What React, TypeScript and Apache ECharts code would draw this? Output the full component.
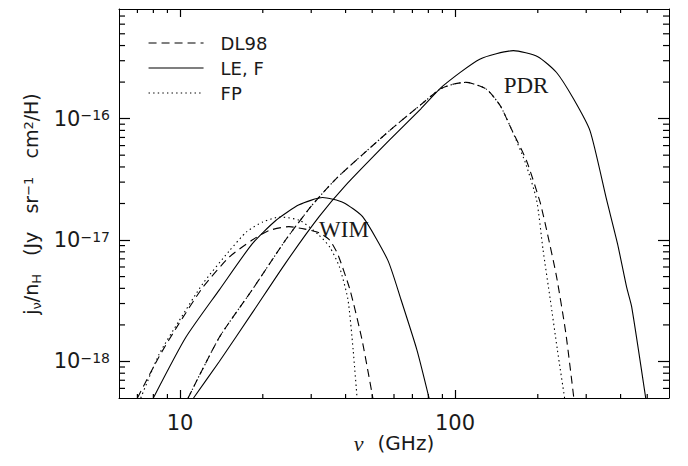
import React, { useEffect, useRef } from 'react';
import * as echarts from 'echarts';

// Axis range and ticks
const X_MIN = 6;
const X_MAX = 600;
const Y_MIN = 5e-19;
const Y_MAX = 8e-16;
const xMajorTicks = [10, 100];
const xMinorTicks = [7, 8, 9, 20, 30, 40, 50, 60, 70, 80, 90, 200, 300, 400, 500];
const yMajorTicks = [1e-18, 1e-17, 1e-16];
const yMinorTicks = [
  6e-19, 7e-19, 8e-19, 9e-19,
  2e-18, 3e-18, 4e-18, 5e-18, 6e-18, 7e-18, 8e-18, 9e-18,
  2e-17, 3e-17, 4e-17, 5e-17, 6e-17, 7e-17, 8e-17, 9e-17,
  2e-16, 3e-16, 4e-16, 5e-16, 6e-16, 7e-16,
];

const legendNames = ['DL98', 'LE, F', 'FP'];

// WIM curves (frequency in GHz, emissivity in Jy sr^-1 cm^2 / H)
const wimDL98Freq = [7.0, 8.4, 9.9, 12.1, 15.1, 18.3, 21.1, 24.9, 28.5, 32.0, 35.0, 37.5, 41.5, 45.9, 50.5];
const wimDL98Val = [5.0e-19, 1.1e-18, 2.04e-18, 4.07e-18, 7.24e-18, 1.0e-17, 1.2e-17, 1.29e-17, 1.23e-17, 1.15e-17, 1.0e-17, 7.6e-18, 3.89e-18, 1.51e-18, 4.7e-19];

const wimLEFreq = [8.0, 10.5, 13.9, 18.3, 22.3, 27.1, 33.0, 39.2, 46.2, 57.0, 63.6, 72.8, 81.0];
const wimLEVal = [5.0e-19, 1.58e-18, 3.89e-18, 9.3e-18, 1.45e-17, 1.95e-17, 2.24e-17, 2.04e-17, 1.55e-17, 6.8e-18, 3.24e-18, 1.23e-18, 4.7e-19];

const wimFPFreq = [7.2, 8.4, 9.9, 12.1, 15.1, 17.5, 20.0, 23.1, 27.3, 32.0, 35.1, 38.0, 40.8, 42.6, 44.2];
const wimFPVal = [5.0e-19, 1.15e-18, 2.14e-18, 4.37e-18, 8.13e-18, 1.175e-17, 1.41e-17, 1.55e-17, 1.45e-17, 1.1e-17, 8.7e-18, 6.0e-18, 3.24e-18, 1.26e-18, 4.5e-19];

// PDR curves
const pdrDL98Freq = [10.7, 13.9, 18.3, 24.2, 30, 37, 47, 59.5, 75, 88.6, 100, 110, 130, 146, 160, 182, 204, 217, 234, 253, 271];
const pdrDL98Val = [5.0e-19, 1.58e-18, 3.89e-18, 1.0e-17, 1.9e-17, 3.21e-17, 5.26e-17, 8.43e-17, 1.3e-16, 1.76e-16, 1.94e-16, 1.99e-16, 1.75e-16, 1.28e-16, 8.3e-17, 4.5e-17, 2.04e-17, 1.12e-17, 5.0e-18, 1.7e-18, 4.8e-19];

const pdrLEFreq = [11.2, 13.9, 18.3, 24.2, 32.0, 40.0, 57.0, 75.0, 90.4, 123, 163, 200, 234, 270, 310, 356, 390, 421, 439, 495];
const pdrLEVal = [5.0e-19, 1.0e-18, 2.51e-18, 6.46e-18, 1.55e-17, 2.82e-17, 6.46e-17, 1.2e-16, 1.86e-16, 3.09e-16, 3.63e-16, 3.24e-16, 2.4e-16, 1.45e-16, 7.9e-17, 2.14e-17, 9.3e-18, 4.07e-18, 2.82e-18, 4.8e-19];

const pdrFPFreq = [10.7, 13.9, 18.3, 24.2, 30, 37, 47, 59.5, 75, 88.6, 100, 110, 130, 146, 160, 180, 198, 209, 222, 235.5, 251];
const pdrFPVal = [5.0e-19, 1.58e-18, 3.89e-18, 1.0e-17, 1.9e-17, 3.21e-17, 5.26e-17, 8.43e-17, 1.3e-16, 1.76e-16, 1.94e-16, 1.99e-16, 1.75e-16, 1.28e-16, 8.3e-17, 4.37e-17, 2.14e-17, 8.3e-18, 3.24e-18, 1.26e-18, 4.8e-19];

const FONT = '"DejaVu Sans", sans-serif';
const SERIF = '"Liberation Serif", "DejaVu Serif", serif';
const TXT = '#1a1a1a';

function makeSeries(name: string, f: number[], v: number[], dash: any) {
  return {
    type: 'line',
    name,
    xAxisIndex: 0,
    yAxisIndex: 0,
    data: f.map((x, i) => [x, v[i]]),
    showSymbol: false,
    symbol: 'none',
    smooth: 0.2,
    silent: true,
    lineStyle: { color: '#000', width: 1.1, type: dash },
  };
}

export default function App() {
  const ref = useRef<HTMLDivElement>(null);

  useEffect(() => {
    document.body.style.margin = '0';
    const chart = echarts.init(ref.current as HTMLDivElement, null, { renderer: 'svg' });

    const mkAxisLine = () => ({ show: true, onZero: false, lineStyle: { color: '#000', width: 1 } });
    const mkMajorTick = (len: number) => ({
      show: true,
      inside: true,
      length: len,
      lineStyle: { color: '#000', width: 1.2 },
    });

    const tickRich = {
      b: { fontSize: 21, lineHeight: 21, fontFamily: FONT, color: TXT, verticalAlign: 'middle' },
      s: { fontSize: 14, lineHeight: 14, fontFamily: FONT, color: TXT, padding: [0, 0, 16, 0], verticalAlign: 'top' },
    };
    const titleRich = {
      b: { fontSize: 19, lineHeight: 19, fontFamily: FONT, fill: TXT, verticalAlign: 'middle' },
      bx: { fontSize: 20, lineHeight: 20, fontFamily: FONT, fill: TXT, verticalAlign: 'middle' },
      sp: { fontSize: 13, lineHeight: 13, fontFamily: FONT, fill: TXT, padding: [0, 0, 17, 0], verticalAlign: 'top' },
      sb: { fontSize: 13, lineHeight: 13, fontFamily: FONT, fill: TXT, padding: [10, 0, 0, 0], verticalAlign: 'middle' },
      i: { fontSize: 22, lineHeight: 22, fontFamily: SERIF, fontStyle: 'italic', fill: TXT, verticalAlign: 'middle', padding: [0, 14, 0, 0] },
    };

    const labelGraphics: any[] = [
      { type: 'text', x: 344, y: 229, style: { text: 'WIM', fontSize: 23, fontFamily: SERIF, fill: TXT, align: 'center', verticalAlign: 'middle' } },
      { type: 'text', x: 526, y: 85, style: { text: 'PDR', fontSize: 23, fontFamily: SERIF, fill: TXT, align: 'center', verticalAlign: 'middle' } },
      {
        type: 'text',
        x: 394,
        y: 443,
        style: { text: '{i|ν}{bx|(GHz)}', rich: titleRich, fill: TXT, align: 'center', verticalAlign: 'middle' },
      },
      {
        type: 'text',
        x: 31,
        y: 204,
        rotation: Math.PI / 2,
        style: {
          text: '{b|j}{sb|ν}{b|/n}{sb|H}{b|   (Jy   sr}{sp|−1}{b|   cm}{sp|2}{b|/H)}',
          rich: titleRich,
          fill: TXT,
          align: 'center',
          verticalAlign: 'middle',
        },
      },
    ];

    const option: any = {
      animation: false,
      backgroundColor: '#fff',
      grid: { left: 119, right: 19, top: 9, bottom: 68, outerBoundsMode: 'none', containLabel: false },
      legend: {
        data: legendNames,
        orient: 'vertical',
        left: 143,
        top: 28,
        itemWidth: 55,
        itemHeight: 14,
        itemGap: 5,
        selectedMode: false,
        itemStyle: { color: 'transparent', borderColor: 'transparent', borderWidth: 0 },
        lineStyle: { width: 1.1 },
        textStyle: { fontSize: 18, lineHeight: 20, fontFamily: FONT, color: TXT, padding: [0, 0, 0, 12] },
      },
      xAxis: [
        {
          type: 'log', min: X_MIN, max: X_MAX, splitLine: { show: false },
          position: 'bottom',
          axisLine: mkAxisLine(),
          axisTick: { ...mkMajorTick(8), customValues: xMajorTicks },
          axisLabel: {
            customValues: xMajorTicks,
            margin: 14,
            fontSize: 21,
            fontFamily: FONT,
            color: TXT,
            formatter: (v: number) => String(Math.round(v)),
          },
        },
        {
          type: 'log', min: X_MIN, max: X_MAX, splitLine: { show: false },
          position: 'top',
          axisLine: mkAxisLine(),
          axisTick: { ...mkMajorTick(8), customValues: xMajorTicks },
          axisLabel: { show: false },
        },
      ],
      yAxis: [
        {
          type: 'log', min: Y_MIN, max: Y_MAX, splitLine: { show: false },
          position: 'left',
          axisLine: mkAxisLine(),
          axisTick: { ...mkMajorTick(11), customValues: yMajorTicks },
          axisLabel: {
            customValues: yMajorTicks,
            margin: 9,
            formatter: (v: number) => `{b|10}{s|−${Math.round(-Math.log10(v))}}`,
            rich: tickRich,
          },
        },
        {
          type: 'log', min: Y_MIN, max: Y_MAX, splitLine: { show: false },
          position: 'right',
          axisLine: mkAxisLine(),
          axisTick: { ...mkMajorTick(11), customValues: yMajorTicks },
          axisLabel: { show: false },
        },
      ],
      graphic: labelGraphics,
      series: [
        makeSeries('DL98', wimDL98Freq, wimDL98Val, [8, 5]),
        makeSeries('LE, F', wimLEFreq, wimLEVal, 'solid'),
        makeSeries('FP', wimFPFreq, wimFPVal, [1.4, 3.2]),
        makeSeries('DL98', pdrDL98Freq, pdrDL98Val, [8, 5]),
        makeSeries('LE, F', pdrLEFreq, pdrLEVal, 'solid'),
        makeSeries('FP', pdrFPFreq, pdrFPVal, [1.4, 3.2]),
      ],
    };

    chart.setOption(option);

    // Minor tick marks placed through the chart's own log scales
    const finder: any = { xAxisIndex: 0, yAxisIndex: 0 };
    const tickEls: any[] = [];
    const addLine = (x1: number, y1: number, x2: number, y2: number) => {
      tickEls.push({ type: 'line', shape: { x1, y1, x2, y2 }, style: { stroke: '#000', lineWidth: 1.2 } });
    };
    xMinorTicks.forEach((v) => {
      const b = chart.convertToPixel(finder, [v, Y_MIN]) as number[];
      const t = chart.convertToPixel(finder, [v, Y_MAX]) as number[];
      addLine(b[0], b[1], b[0], b[1] - 4);
      addLine(t[0], t[1], t[0], t[1] + 4);
    });
    yMinorTicks.forEach((v) => {
      const l = chart.convertToPixel(finder, [X_MIN, v]) as number[];
      const r = chart.convertToPixel(finder, [X_MAX, v]) as number[];
      addLine(l[0], l[1], l[0] + 6, l[1]);
      addLine(r[0], r[1], r[0] - 6, r[1]);
    });

    chart.setOption({ graphic: [...labelGraphics, ...tickEls] });

    return () => {
      chart.dispose();
    };
  }, []);

  return <div ref={ref} style={{ width: 688, height: 466 }} />;
}
